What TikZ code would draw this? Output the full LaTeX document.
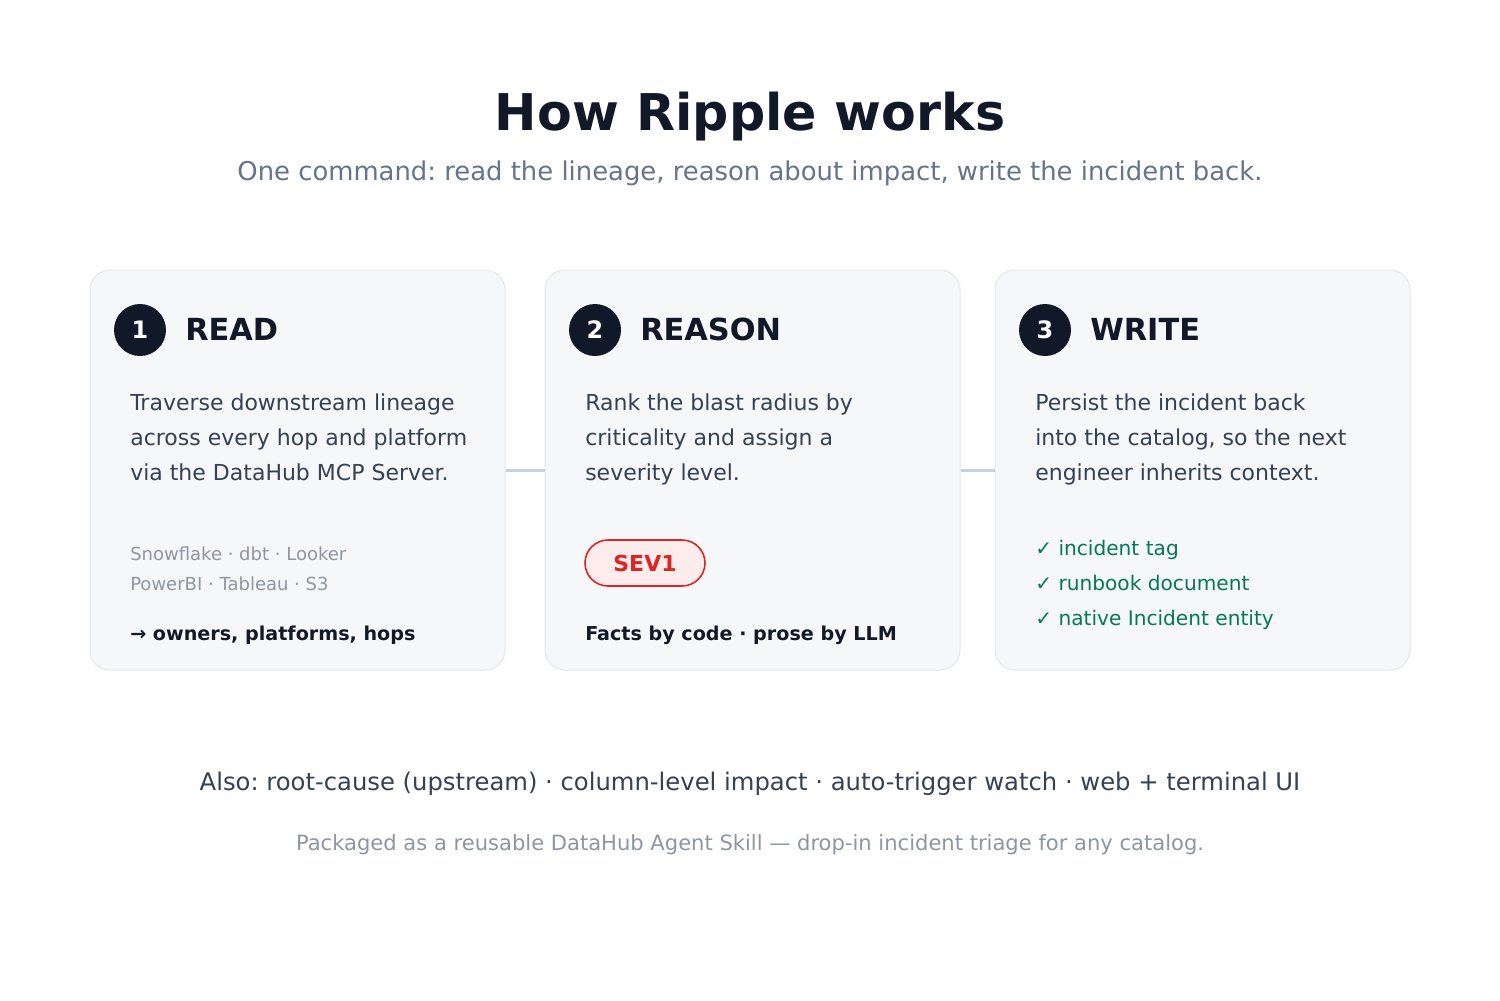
\documentclass[tikz,border=0pt]{standalone}
\usepackage{fontspec}
\setmainfont{DejaVu Sans}
\usepackage{tikz}
\usetikzlibrary{positioning}
\usepackage{xcolor}
\definecolor{ink}{HTML}{111827}
\definecolor{slate}{HTML}{334155}
\definecolor{subtle}{HTML}{64748B}
\definecolor{mist}{HTML}{8E96A3}
\definecolor{cardbg}{HTML}{F6F7F9}
\definecolor{cardline}{HTML}{E5E7EB}
\definecolor{wire}{HTML}{CBD0D8}
\definecolor{leaf}{HTML}{047857}
\definecolor{alert}{HTML}{DC2626}
\definecolor{alertbg}{HTML}{FDECEC}
\frenchspacing

\begin{document}
\begin{tikzpicture}[x=0.75pt, y=-0.75pt,
    cardbox/.style={draw=cardline, line width=0.75pt, fill=cardbg, rounded corners=15pt,
        minimum width=311.25pt, minimum height=300pt},
    numbadge/.style={circle, fill=ink, text=white, minimum size=39pt, inner sep=0pt,
        font=\fontsize{18}{18}\selectfont\bfseries},
    steptitle/.style={anchor=base west, inner sep=0pt, text=ink,
        font=\fontsize{22.8}{22.8}\selectfont\bfseries},
    bodytext/.style={anchor=base west, inner sep=0pt, text=slate,
        font=\fontsize{16.5}{16.5}\selectfont},
    toolsline/.style={anchor=base west, inner sep=0pt, text=mist,
        font=\fontsize{13.5}{13.5}\selectfont},
    takeaway/.style={anchor=base west, inner sep=0pt, text=ink,
        font=\fontsize{14.35}{14.35}\selectfont\bfseries},
    checkline/.style={anchor=base west, inner sep=0pt, text=leaf,
        font=\fontsize{15.1}{15.1}\selectfont},
    connector/.style={draw=wire, line width=2.25pt}]

    % Canvas
    \useasboundingbox (0,0) rectangle (1500,1000);
    \fill[white] (0,0) rectangle (1500,1000);

    % Title
    \node[anchor=base, inner sep=0pt, text=ink, font=\fontsize{38}{38}\selectfont\bfseries]
        (title) at (750,130) {How Ripple works};
    \node[anchor=base, inner sep=0pt, text=subtle, font=\fontsize{19.4}{19.4}\selectfont]
        (subtitle) at (750,180) {One command: read the lineage, reason about impact, write the incident back.};

    % Cards
    \node[cardbox] (card1) at (297.5,470) {};
    \node[cardbox] (card2) at (752.5,470) {};
    \node[cardbox] (card3) at (1202.5,470) {};
    \draw[connector] (card1.east) -- (card2.west);
    \draw[connector] (card2.east) -- (card3.west);

    % Headers
    \foreach \name/\cx [count=\i] in {READ/140, REASON/595, WRITE/1045} {
        \node[numbadge] (num\i) at (\cx,330) {\i};
        \node[steptitle] (head\i) at (\cx+45,340) {\name};
    }

    % Descriptions
    \foreach \txt [count=\i] in {Traverse downstream lineage, across every hop and platform,
            via the DataHub MCP Server.}
        \node[bodytext] (read\i) at (130,375+35*\i) {\txt};
    \foreach \txt [count=\i] in {Rank the blast radius by, criticality and assign a, severity level.}
        \node[bodytext] (reason\i) at (585,375+35*\i) {\txt};
    \foreach \txt [count=\i] in {Persist the incident back, {into the catalog, so the next},
            engineer inherits context.}
        \node[bodytext] (write\i) at (1035,375+35*\i) {\txt};

    % Card 1 details
    \node[toolsline] (tools1) at (130,560) {Snowflake · dbt · Looker};
    \node[toolsline] (tools2) at (130,590) {PowerBI · Tableau · S3};
    \node[takeaway] (readout) at (130,640) {→ owners, platforms, hops};

    % Card 2 details
    \node[draw=alert, line width=1.2pt, fill=alertbg, rounded corners=17.25pt,
        minimum width=90pt, minimum height=34.5pt, inner sep=0pt, text=alert,
        font=\fontsize{16.5}{16.5}\selectfont\bfseries] (sev) at (645,563) {SEV1};
    \node[takeaway] (reasonout) at (585,640) {Facts by code · prose by LLM};

    % Card 3 details
    \foreach \txt [count=\i] in {incident tag, runbook document, native Incident entity}
        \node[checkline] (check\i) at (1035,520+35*\i) {✓ \txt};

    % Footer
    \node[anchor=base, inner sep=0pt, text=slate, font=\fontsize{18.2}{18.2}\selectfont]
        (also) at (750,790) {Also: root-cause (upstream) · column-level impact · auto-trigger watch · web + terminal UI};
    \node[anchor=base, inner sep=0pt, text=mist, font=\fontsize{15.8}{15.8}\selectfont]
        (package) at (750,850) {Packaged as a reusable DataHub Agent Skill — drop-in incident triage for any catalog.};
\end{tikzpicture}
\end{document}
